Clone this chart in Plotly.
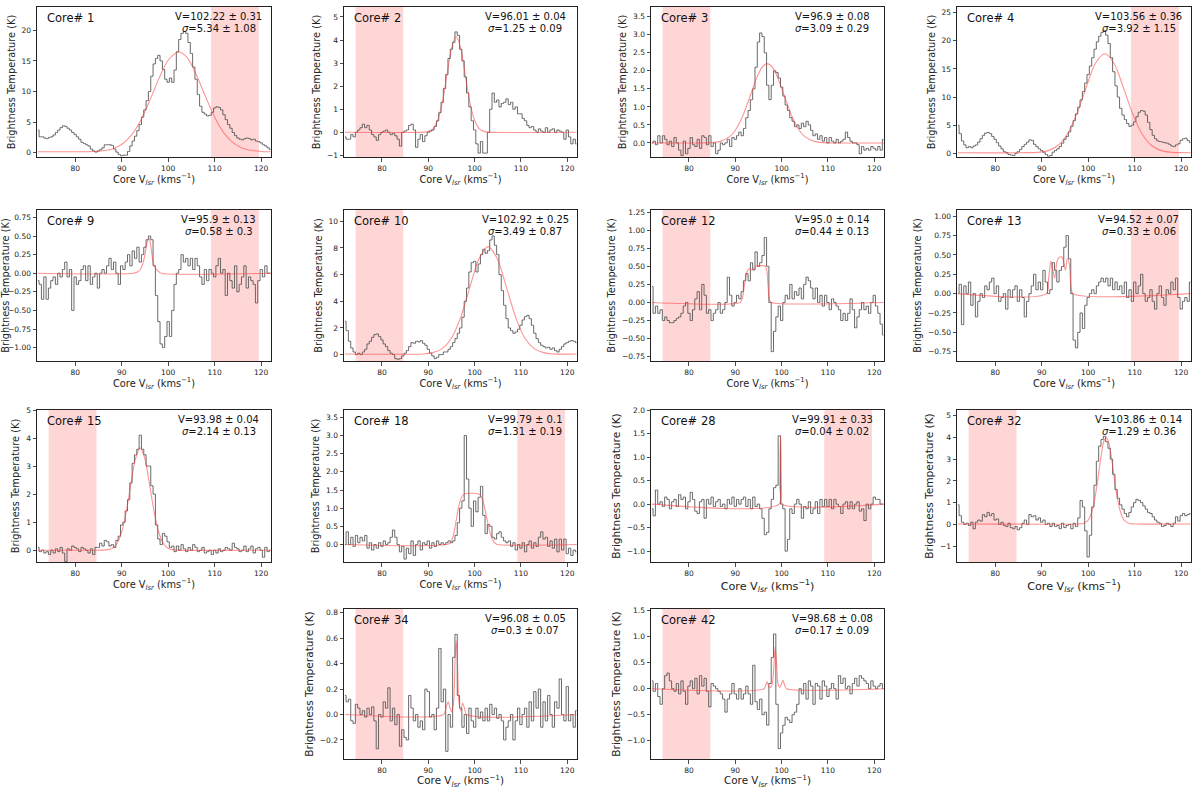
import plotly.graph_objects as go

# ---------------- data ----------------
velocity = [72.0, 72.5, 73.0, 73.5, 74.0, 74.5, 75.0, 75.5, 76.0, 76.5,
            77.0, 77.5, 78.0, 78.5, 79.0, 79.5, 80.0, 80.5, 81.0, 81.5,
            82.0, 82.5, 83.0, 83.5, 84.0, 84.5, 85.0, 85.5, 86.0, 86.5,
            87.0, 87.5, 88.0, 88.5, 89.0, 89.5, 90.0, 90.5, 91.0, 91.5,
            92.0, 92.5, 93.0, 93.5, 94.0, 94.5, 95.0, 95.5, 96.0, 96.5,
            97.0, 97.5, 98.0, 98.5, 99.0, 99.5, 100.0, 100.5, 101.0, 101.5,
            102.0, 102.5, 103.0, 103.5, 104.0, 104.5, 105.0, 105.5, 106.0, 106.5,
            107.0, 107.5, 108.0, 108.5, 109.0, 109.5, 110.0, 110.5, 111.0, 111.5,
            112.0, 112.5, 113.0, 113.5, 114.0, 114.5, 115.0, 115.5, 116.0, 116.5,
            117.0, 117.5, 118.0, 118.5, 119.0, 119.5, 120.0, 120.5, 121.0, 121.5,
            122.0]

core_ids = [1, 2, 3, 4, 9, 10, 12, 13, 15, 18, 28, 32, 34, 42]

temp_core1 = [3.7, 2.6, 2.6, 2.4, 2.3, 2.5, 2.6, 2.9, 3.3, 3.7,
              4.1, 4.4, 4.3, 4.0, 3.7, 3.3, 3.0, 2.6, 2.2, 1.7,
              1.5, 1.3, 1.1, 0.6, 0.3, 0.1, 0.3, 0.5, 0.8, 1.3,
              1.3, 1.3, 1.2, 0.6, 0.1, -0.3, -0.5, -0.4, -0.4, 0.2,
              1.1, 1.9, 2.7, 3.6, 4.6, 5.8, 7.0, 8.5, 10.0, 12.5,
              14.5, 15.4, 15.9, 15.0, 13.6, 12.0, 11.5, 12.2, 11.5, 13.5,
              16.5, 18.5, 19.5, 19.8, 19.5, 18.0, 16.2, 14.0, 12.0, 9.5,
              7.6, 6.6, 6.3, 6.0, 6.1, 6.6, 7.3, 7.5, 7.4, 7.0,
              6.2, 5.4, 4.6, 4.0, 3.3, 2.8, 2.4, 2.2, 2.1, 2.3,
              2.4, 2.3, 2.1, 2.2, 1.9, 1.8, 1.6, 1.3, 1.1, 0.8,
              0.5]
temp_core2 = [-0.2, -0.3, -0.3, -0.1, -0.2, 0.0, 0.1, 0.2, 0.35, 0.2,
              0.3, 0.1, -0.1, -0.2, -0.35, -0.1, 0.0, 0.05, 0.1, 0.0,
              -0.1, -0.05, -0.15, -0.3, -0.6, 0.0, 0.05, 0.1, 0.3, 0.35,
              0.1, -0.65, -0.3, -0.1, -0.4, -0.15, 0.0, 0.05, 0.1, 0.25,
              0.5, 0.85, 1.3, 1.9, 2.5, 3.2, 3.6, 3.9, 4.35, 4.2,
              3.6, 3.1, 2.4, 1.7, 1.1, 0.5, 0.1, -0.5, -0.9, -0.4,
              -0.9, -0.9, 0.0, 1.0, 1.7, 1.3, 1.4, 1.1, 1.25, 1.3,
              1.45, 1.2, 1.3, 1.0, 1.1, 0.8, 0.8, 0.6, 0.5, 0.3,
              0.2, 0.25, 0.1, 0.0, 0.15, 0.05, 0.0, 0.2, 0.0, 0.1,
              0.15, 0.0, 0.1, 0.05, 0.0, -0.3, 0.1, -0.2, -0.5, -0.3,
              -0.5]
temp_core3 = [0.0, 0.05, -0.05, 0.2, 0.0, 0.2, 0.1, -0.05, 0.05, -0.1,
              0.15, 0.0, -0.2, -0.35, 0.05, -0.3, -0.15, 0.15, -0.05, -0.1,
              0.1, -0.15, 0.2, 0.15, -0.05, 0.2, -0.1, 0.0, -0.3, -0.2,
              0.0, -0.05, 0.0, 0.1, -0.1, 0.15, 0.1, 0.2, 0.3, 0.2,
              0.4, 0.7, 0.9, 1.2, 1.5, 2.1, 2.8, 3.05, 2.95, 2.5,
              1.6, 1.2, 1.6, 2.0, 1.95, 1.8, 1.55, 1.3, 1.05, 0.9,
              0.7, 0.6, 0.45, 0.5, 0.4, 0.55, 0.45, 0.6, 0.5, 0.35,
              0.2, 0.25, 0.1, 0.2, 0.05, 0.15, 0.0, 0.15, 0.05, 0.0,
              0.1, 0.0, 0.05, 0.1, 0.3, 0.15, 0.05, 0.0, 0.0, -0.05,
              -0.3, -0.1, -0.2, -0.15, -0.2, -0.1, -0.15, -0.2, -0.1, -0.2,
              0.1]
temp_core4 = [5.0, 3.5, 2.2, 1.5, 1.0, 1.2, 1.0, 1.3, 1.5, 2.0,
              2.6, 3.2, 3.6, 3.7, 3.5, 3.0, 2.5, 1.9, 1.3, 0.8,
              0.3, 0.1, -0.2, -0.3, -0.4, 0.0, 0.3, 0.7, 1.2, 1.6,
              2.0, 2.4, 2.3, 1.6, 1.2, 0.8, 0.5, 0.2, -0.2, -0.5,
              -0.4, 0.2, 0.5, 0.8, 1.2, 1.8, 2.5, 3.0, 3.8, 4.8,
              5.8, 7.0, 8.2, 9.5, 11.0, 12.5, 14.0, 15.5, 17.0, 18.5,
              19.8, 20.8, 21.5, 21.8, 21.0, 19.5, 17.0, 14.5, 12.0, 10.0,
              8.0, 6.8, 6.0, 5.3, 4.8, 5.0, 5.6, 6.5, 7.3, 7.6,
              7.5, 6.8, 5.5, 4.2, 3.2, 2.6, 2.2, 2.1, 2.0, 1.9,
              1.8, 1.6, 1.3, 1.2, 1.5, 1.7, 2.3, 2.6, 2.7, 2.3,
              1.9]
temp_core9 = [-0.1, -0.15, -0.35, -0.05, -0.35, -0.2, -0.1, -0.05, -0.15, 0.0,
              -0.05, 0.05, 0.15, -0.05, 0.05, -0.5, -0.05, -0.15, -0.1, 0.05,
              0.1, -0.1, 0.1, -0.15, -0.05, 0.0, -0.2, 0.0, 0.05, 0.0,
              0.1, 0.2, 0.05, 0.15, 0.0, -0.15, 0.1, 0.05, 0.15, 0.25,
              0.1, 0.3, 0.2, 0.35, 0.15, 0.25, 0.35, 0.45, 0.5, 0.45,
              0.1, -0.3, -0.65, -0.95, -1.0, -0.85, -0.65, -0.85, -0.5, -0.15,
              0.0, 0.05, 0.25, 0.15, 0.2, 0.1, 0.2, 0.05, 0.2, 0.1,
              -0.05, -0.15, 0.05, -0.1, 0.05, 0.0, -0.05, 0.1, 0.2, 0.0,
              0.05, -0.3, 0.0, -0.1, -0.2, 0.1, -0.25, -0.15, -0.05, 0.1,
              -0.2, -0.05, -0.1, -0.15, -0.4, -0.1, 0.05, -0.05, 0.1, 0.0,
              0.0]
temp_core10 = [2.5, 1.8, 1.0, 0.5, 0.2, 0.0, 0.1, 0.0, 0.2, 0.4,
               0.8, 1.0, 1.3, 1.5, 1.55, 1.35, 1.1, 0.8, 0.6, 0.3,
               0.1, 0.0, -0.3, -0.35, -0.3, -0.1, 0.1, 0.3, 0.6, 0.9,
               0.85, 1.0, 0.95, 1.05, 0.85, 0.7, 0.4, 0.1, -0.1, -0.3,
               -0.2, 0.0, 0.0, 0.2, 0.2, 0.4, 0.6, 0.9, 1.2, 1.6,
               2.0, 2.8, 4.0, 5.0, 6.2, 6.9, 7.0, 6.2, 6.8, 7.5,
               7.9, 7.6, 7.8, 8.6, 8.9, 8.2, 7.5, 6.0, 4.8, 3.7,
               2.7, 2.0, 1.8, 1.6, 1.7, 1.9, 2.2, 2.6, 2.85, 2.95,
               2.7, 2.2, 1.6, 1.2, 0.9, 0.7, 0.6, 0.5, 0.55, 0.4,
               0.5, 0.3, 0.2, 0.4, 0.6, 0.8, 0.9, 1.0, 1.05, 1.0,
               0.9]
temp_core12 = [0.22, -0.15, -0.05, -0.15, -0.1, -0.25, -0.2, -0.25, -0.28, -0.28,
               -0.25, -0.22, -0.2, -0.15, -0.05, 0.0, -0.15, -0.25, -0.1, 0.05,
               0.15, -0.1, 0.25, 0.1, -0.15, -0.1, -0.25, -0.15, -0.1, 0.0,
               -0.15, -0.1, 0.0, 0.35, 0.1, -0.05, 0.0, 0.1, 0.05, 0.15,
               0.3, 0.4, 0.3, 0.55, 0.45, 0.7, 0.5, 0.55, 0.65, 0.9,
               0.5, 0.0, -0.68, -0.4, -0.2, -0.05, -0.25, 0.0, 0.1, 0.05,
               0.25, 0.05, 0.15, 0.1, 0.2, 0.05, 0.25, 0.35, 0.3, 0.2,
               0.05, 0.2, 0.0, 0.1, -0.05, 0.1, 0.0, -0.1, 0.05, 0.0,
               -0.05, -0.1, -0.25, -0.15, -0.25, -0.15, 0.05, -0.1, -0.35, -0.2,
               -0.1, 0.0, -0.1, -0.05, -0.15, 0.0, 0.1, -0.05, -0.15, -0.3,
               -0.45]
temp_core13 = [0.0, 0.12, -0.4, 0.1, 0.0, 0.15, -0.15, 0.0, -0.3, -0.1,
               0.0, -0.05, 0.1, 0.05, 0.15, 0.2, 0.0, 0.1, -0.1, -0.05,
               0.0, -0.2, 0.05, -0.05, 0.05, 0.1, -0.1, 0.05, -0.05, -0.3,
               -0.1, 0.0, 0.1, 0.25, 0.05, 0.15, 0.05, 0.3, 0.15, 0.0,
               0.05, 0.4, 0.3, 0.15, 0.3, 0.35, 0.6, 0.75, 0.45, 0.0,
               -0.6, -0.7, -0.5, -0.25, -0.45, -0.15, -0.05, 0.0, 0.05, 0.0,
               0.1, 0.15, 0.2, 0.15, 0.2, 0.1, 0.2, 0.05, 0.15, 0.05,
               0.1, 0.0, 0.15, -0.05, 0.05, -0.1, 0.15, 0.0, 0.1, 0.25,
               0.0, -0.1, -0.05, 0.05, -0.1, -0.2, 0.0, 0.1, -0.05, -0.15,
               0.05, 0.0, 0.15, 0.05, 0.2, -0.05, -0.2, -0.1, -0.05, -0.1,
               0.15]
temp_core15 = [0.1, -0.05, 0.0, -0.1, -0.05, -0.15, 0.0, -0.1, 0.05, -0.05,
               0.1, -0.1, -0.4, 0.05, 0.0, 0.15, 0.1, 0.05, -0.05, 0.1,
               0.05, 0.0, -0.1, 0.05, -0.15, 0.1, 0.1, 0.25, 0.15, 0.35,
               0.3, 0.15, 0.2, 0.1, 0.35, 0.5, 0.9, 1.0, 1.4, 1.8,
               2.4, 3.1, 3.4, 3.6, 4.1, 3.6, 3.4, 3.0, 3.0, 2.3,
               2.0, 0.9, 0.4, 0.2, 0.6, 0.5, 0.3, 0.1, 0.15, -0.05,
               0.15, 0.0, 0.2, 0.05, -0.05, 0.1, 0.0, 0.2, 0.1, -0.05,
               0.0, 0.1, -0.1, -0.05, 0.0, -0.15, 0.0, -0.1, 0.05, -0.05,
               0.0, 0.1, 0.05, 0.0, 0.25, 0.1, 0.05, -0.05, 0.0, 0.15,
               -0.05, 0.05, 0.15, -0.1, 0.05, 0.1, 0.0, -0.25, 0.1, -0.05,
               0.0]
temp_core18 = [0.0, 0.35, 0.0, 0.2, -0.05, 0.25, 0.05, 0.2, 0.1, 0.25,
               -0.1, 0.05, -0.15, 0.0, -0.1, 0.05, -0.05, 0.1, 0.0, 0.05,
               0.2, 0.4, 0.2, 0.0, -0.2, -0.05, -0.4, -0.1, -0.25, 0.1,
               -0.3, 0.0, 0.1, -0.15, 0.05, 0.0, 0.1, -0.1, 0.05, -0.05,
               0.1, 0.0, 0.05, 0.0, 0.05, 0.1, 0.05, 0.1, 0.25, 0.6,
               1.0, 1.2, 3.0, 1.8, 1.0, 0.5, 1.2, 0.9, 1.3, 1.6,
               0.8, 0.3, 0.55, 0.5, 0.2, 0.15, 0.3, 0.35, 0.2, 0.1,
               0.05, 0.1, -0.05, 0.05, -0.15, 0.0, -0.1, 0.05, -0.2, 0.0,
               0.1, -0.1, 0.05, -0.05, 0.2, 0.35, 0.15, 0.2, -0.05, 0.1,
               -0.1, 0.15, -0.2, 0.15, -0.15, 0.15, -0.25, -0.1, -0.3, -0.15,
               -0.2]
temp_core28 = [-0.1, -0.25, 0.3, 0.0, 0.05, -0.05, 0.15, 0.1, -0.1, 0.05,
               0.1, -0.05, 0.2, 0.1, 0.15, -0.1, 0.05, 0.25, 0.1, -0.15,
               -0.2, 0.05, 0.1, -0.3, 0.1, 0.0, 0.15, -0.05, 0.05, 0.1,
               -0.05, 0.0, -0.1, 0.1, 0.0, 0.15, -0.05, 0.1, 0.0, 0.1,
               0.15, -0.05, 0.1, -0.1, 0.15, -0.05, 0.0, -0.1, -0.3, -0.65,
               -0.6, -0.1, 0.1, 0.35, 0.4, 1.45, 0.0, -0.1, -1.0, -0.75,
               -0.1, -0.2, 0.0, 0.1, 0.0, -0.3, -0.05, -0.1, 0.05, -0.2,
               -0.1, 0.05, -0.2, 0.1, -0.05, 0.1, -0.05, 0.1, -0.1, 0.1,
               0.0, -0.05, -0.2, 0.0, 0.05, -0.1, 0.05, -0.1, 0.0, 0.05,
               -0.15, -0.1, -0.35, 0.0, -0.1, 0.0, 0.15, 0.1, 0.1, 0.0,
               0.0]
temp_core32 = [0.9, 0.4, 0.1, 0.0, 0.05, -0.05, 0.1, -0.2, 0.1, 0.2,
               0.15, 0.45, 0.35, 0.55, 0.4, 0.5, 0.2, 0.25, 0.0, 0.1,
               -0.05, -0.1, 0.05, -0.15, -0.2, -0.1, -0.25, -0.15, 0.05, 0.2,
               0.0, 0.45, 0.35, 0.4, 0.2, 0.3, 0.1, 0.2, 0.0, 0.05,
               -0.1, 0.05, -0.1, -0.05, -0.2, 0.05, -0.15, -0.05, 0.0, -0.2,
               0.05, -0.1, 0.3, 1.1, 0.8, -0.3, -1.5, -0.5, 0.8, 1.8,
               2.9, 3.6, 3.9, 4.05, 3.8, 3.5, 3.0, 2.3, 1.6, 1.2,
               0.9, 0.7, 0.5, 0.35, 0.55, 0.8, 1.0, 1.15, 1.1, 1.0,
               0.85, 0.7, 0.55, 0.5, 0.35, 0.2, 0.1, 0.05, -0.1, -0.05,
               0.05, 0.0, -0.1, 0.05, 0.35, 0.15, 0.4, 0.5, 0.4, 0.45,
               0.5]
temp_core34 = [0.15, 0.1, 0.12, -0.05, -0.07, 0.08, 0.05, 0.0, 0.03, -0.02,
               0.05, 0.0, 0.06, -0.05, -0.27, 0.0, -0.02, 0.1, 0.05, 0.21,
               -0.05, 0.05, -0.08, 0.0, -0.25, -0.12, -0.18, -0.2, 0.15, 0.05,
               -0.05, 0.0, -0.1, -0.05, -0.12, 0.2, 0.18, -0.02, 0.0, -0.12,
               0.05, 0.52, 0.1, 0.2, -0.29, 0.0, -0.1, 0.45, 0.63, 0.15,
               0.05, -0.1, 0.0, -0.15, 0.05, -0.05, -0.1, 0.05, -0.03, 0.02,
               -0.05, 0.05, -0.05, 0.08, 0.0, 0.05, -0.03, 0.0, -0.05, -0.2,
               -0.1, -0.05, 0.0, -0.2, -0.05, 0.05, -0.08, 0.0, 0.05, -0.1,
               0.1, -0.05, 0.18, 0.05, 0.2, -0.1, 0.1, -0.05, 0.15, 0.0,
               -0.1, 0.1, 0.05, 0.28, 0.0, -0.05, 0.22, -0.05, 0.0, -0.1,
               0.03]
temp_core42 = [0.15, -0.05, 0.1, -0.15, -0.3, 0.0, 0.25, 0.3, 0.15, 0.0,
               -0.05, 0.1, -0.1, 0.15, -0.05, -0.3, 0.05, 0.15, 0.0, 0.2,
               -0.1, 0.25, 0.05, 0.2, -0.05, -0.35, 0.1, 0.05, 0.0, -0.05,
               -0.1, -0.2, -0.45, -0.2, -0.1, 0.1, -0.1, -0.2, 0.0, -0.2,
               -0.1, 0.05, -0.1, -0.3, 0.45, -0.25, -0.4, -0.2, -0.5, -0.45,
               -0.7, 0.1, 0.6, 1.05, -0.3, -1.15, -0.85, -0.7, -0.55, -0.6,
               -0.65, -0.5, -0.45, -0.3, 0.0, -0.1, 0.1, -0.2, 0.15, 0.05,
               -0.3, 0.1, 0.05, -0.2, 0.15, 0.05, -0.15, 0.0, 0.1, 0.0,
               -0.2, 0.25, 0.1, 0.2, 0.0, 0.05, -0.1, 0.1, 0.2, 0.05,
               0.25, 0.2, 0.15, 0.1, 0.0, 0.15, 0.05, 0.0, 0.05, 0.1,
               0.0]

# fitted model curves
fit_v_core1 = [72, 80, 84, 86, 88, 90, 92, 94, 96, 98, 100, 102.2, 104, 106, 108, 110, 112, 114, 116, 118, 120, 122]
fit_t_core1 = [0.15, 0.15, 0.2, 0.31, 0.62, 1.35, 2.78, 5.15, 8.46, 12.1, 15.1, 16.45, 15.6, 12.8, 9.2, 5.8, 3.2, 1.6, 0.74, 0.36, 0.21, 0.16]
fit_v_core2 = [72, 89, 90, 91, 92, 93, 94, 95, 96, 97, 98, 99, 100, 101, 102, 103, 122]
fit_t_core2 = [0, 0.01, 0.04, 0.15, 0.51, 1.27, 2.45, 3.64, 4.15, 3.64, 2.45, 1.27, 0.51, 0.15, 0.04, 0.01, 0]
fit_v_core3 = [72, 84.9, 86.9, 88.9, 89.9, 90.9, 91.9, 92.9, 93.9, 94.9, 95.9, 96.9, 97.9, 98.9, 99.9, 100.9, 101.9, 102.9, 103.9, 104.9, 106.9, 108.9, 122]
fit_t_core3 = [0, 0.01, 0.05, 0.19, 0.33, 0.55, 0.84, 1.19, 1.55, 1.89, 2.12, 2.2, 2.12, 1.89, 1.55, 1.19, 0.84, 0.55, 0.33, 0.19, 0.05, 0.01, 0]
fit_v_core4 = [72, 87.56, 89.56, 91.56, 93.56, 95.56, 97.56, 99.56, 101.56, 103.56, 105.56, 107.56, 109.56, 111.56, 113.56, 115.56, 117.56, 119.56, 122]
fit_t_core4 = [0.1, 0.12, 0.21, 0.53, 1.43, 3.47, 7.05, 11.7, 16.0, 17.7, 16.0, 11.7, 7.05, 3.47, 1.43, 0.53, 0.21, 0.12, 0.1]
fit_v_core9 = [72, 92.5, 93.5, 94, 94.5, 95, 95.5, 95.9, 96.3, 96.7, 97, 97.5, 98, 98.5, 122]
fit_t_core9 = [0, 0.0, 0.02, 0.05, 0.12, 0.25, 0.42, 0.47, 0.35, 0.17, 0.1, 0.05, 0.02, 0.0, 0]
fit_v_core10 = [72, 88.92, 90.92, 92.92, 94.92, 96.92, 98.92, 100.92, 102.92, 104.92, 106.92, 108.92, 110.92, 112.92, 114.92, 116.92, 122]
fit_t_core10 = [0.05, 0.05, 0.15, 0.43, 1.19, 2.74, 4.99, 7.17, 8.1, 7.17, 4.99, 2.74, 1.19, 0.43, 0.15, 0.05, 0.05]
fit_v_core12 = [72, 91, 91.5, 92, 92.5, 93, 93.5, 94, 94.5, 95, 95.5, 96, 96.5, 96.8, 97.1, 97.4, 97.8, 122]
fit_t_core12 = [0, 0.0, 0.05, 0.25, 0.42, 0.47, 0.45, 0.47, 0.5, 0.51, 0.51, 0.51, 0.5, 0.45, 0.2, 0.03, 0.0, 0]
fit_v_core13 = [72, 91.0, 91.5, 92.0, 92.4, 92.8, 93.3, 93.8, 94.4, 94.8, 95.1, 95.5, 95.9, 96.3, 96.7, 122]
fit_t_core13 = [0, 0.0, 0.2, 0.42, 0.3, 0.2, 0.42, 0.47, 0.47, 0.38, 0.3, 0.45, 0.4, 0.1, 0.0, 0]
fit_v_core15 = [72, 85.98, 86.98, 87.98, 88.98, 89.98, 90.98, 91.98, 92.98, 93.98, 94.98, 95.98, 96.98, 97.98, 98.98, 99.98, 100.98, 101.98, 122]
fit_t_core15 = [0, 0.004, 0.02, 0.07, 0.24, 0.64, 1.37, 2.36, 3.27, 3.65, 3.27, 2.36, 1.37, 0.64, 0.24, 0.07, 0.02, 0.004, 0]
fit_v_core18 = [72, 94.5, 95, 95.5, 96, 96.5, 97, 97.5, 98, 98.5, 99, 99.5, 100, 100.5, 101, 101.5, 102, 102.5, 103, 103.5, 104, 104.5, 105, 122]
fit_t_core18 = [0, 0.02, 0.1, 0.3, 0.65, 1.0, 1.25, 1.36, 1.4, 1.41, 1.41, 1.41, 1.41, 1.4, 1.38, 1.3, 1.1, 0.8, 0.5, 0.25, 0.1, 0.03, 0.0, 0]
fit_v_core28 = [72, 99.45, 99.6, 99.75, 99.85, 100.0, 100.15, 122]
fit_t_core28 = [0, 0.0, 0.4, 1.47, 1.2, 0.2, 0.0, 0]
fit_v_core32 = [72, 97.86, 98.86, 99.86, 100.36, 100.86, 101.36, 101.86, 102.36, 102.86, 103.36, 103.86, 104.36, 104.86, 105.36, 105.86, 106.36, 106.86, 107.36, 107.86, 108.86, 109.86, 122]
fit_t_core32 = [0.02, 0.02, 0.04, 0.16, 0.33, 0.63, 1.11, 1.76, 2.52, 3.27, 3.82, 4.02, 3.82, 3.27, 2.52, 1.76, 1.11, 0.63, 0.33, 0.16, 0.04, 0.02, 0.02]
fit_v_core34 = [72, 93.3, 93.8, 94.3, 94.7, 95.1, 95.5, 95.8, 96.0, 96.25, 96.6, 97.0, 97.4, 97.8, 98.3, 122]
fit_t_core34 = [0, 0.0, 0.05, 0.1, 0.05, 0.02, 0.12, 0.45, 0.58, 0.45, 0.1, 0.03, 0.09, 0.05, 0.0, 0]
fit_v_core42 = [72, 96.2, 96.6, 96.9, 97.2, 97.6, 98.0, 98.3, 98.6, 98.9, 99.2, 99.6, 100.0, 100.3, 100.7, 101.1, 122]
fit_t_core42 = [0, 0.0, 0.08, 0.13, 0.05, 0.02, 0.1, 0.4, 0.8, 0.5, 0.1, 0.03, 0.1, 0.16, 0.05, 0.0, 0]

fit_velocity = ["102.22", "96.01", "96.9", "103.56", "95.9", "102.92", "95.0", "94.52",
                "93.98", "99.79", "99.91", "103.86", "96.08", "98.68"]
fit_velocity_err = ["0.31", "0.04", "0.08", "0.36", "0.13", "0.25", "0.14", "0.07",
                    "0.04", "0.1", "0.33", "0.14", "0.05", "0.08"]
fit_sigma = ["5.34", "1.25", "3.09", "3.92", "0.58", "3.49", "0.44", "0.33",
             "2.14", "1.31", "0.04", "1.29", "0.3", "0.17"]
fit_sigma_err = ["1.08", "0.09", "0.29", "1.15", "0.3", "0.87", "0.13", "0.06",
                 "0.13", "0.19", "0.02", "0.36", "0.07", "0.09"]

# baseline windows (km/s)
window_low = [74.3, 84.6]
window_high = [109.2, 119.5]
window_side = ["high", "low", "low", "high", "high", "low", "low", "high",
               "low", "high", "high", "low", "low", "low"]

y_ranges = [[-0.7, 23.8], [-1.07, 5.43], [-0.39, 3.77], [-0.65, 26.0],
            [-1.18, 0.85], [-0.48, 10.85], [-0.81, 1.28], [-0.87, 1.08],
            [-0.42, 5.0], [-0.48, 3.7], [-1.23, 2.0], [-1.73, 5.26],
            [-0.35, 0.83], [-1.35, 1.53]]
y_ticks = [[0, 5, 10, 15, 20], [-1, 0, 1, 2, 3, 4, 5],
           [0, 0.5, 1.0, 1.5, 2.0, 2.5, 3.0, 3.5], [0, 5, 10, 15, 20, 25],
           [-1.0, -0.75, -0.5, -0.25, 0, 0.25, 0.5, 0.75], [0, 2, 4, 6, 8, 10],
           [-0.75, -0.5, -0.25, 0, 0.25, 0.5, 0.75, 1.0, 1.25],
           [-0.75, -0.5, -0.25, 0, 0.25, 0.5, 0.75, 1.0],
           [0, 1, 2, 3, 4, 5], [0, 0.5, 1.0, 1.5, 2.0, 2.5, 3.0, 3.5],
           [-1.0, -0.5, 0, 0.5, 1.0, 1.5, 2.0], [-1, 0, 1, 2, 3, 4, 5],
           [-0.2, 0, 0.2, 0.4, 0.6, 0.8], [-1.0, -0.5, 0, 0.5, 1.0, 1.5]]
y_tick_decimals = [0, 0, 1, 0, 2, 0, 2, 2, 0, 1, 1, 0, 1, 1]
x_ticks = [80, 90, 100, 110, 120]
x_range = [71.8, 122.1]

temps = [temp_core1, temp_core2, temp_core3, temp_core4, temp_core9, temp_core10,
         temp_core12, temp_core13, temp_core15, temp_core18, temp_core28,
         temp_core32, temp_core34, temp_core42]
fits_v = [fit_v_core1, fit_v_core2, fit_v_core3, fit_v_core4, fit_v_core9, fit_v_core10,
          fit_v_core12, fit_v_core13, fit_v_core15, fit_v_core18, fit_v_core28,
          fit_v_core32, fit_v_core34, fit_v_core42]
fits_t = [fit_t_core1, fit_t_core2, fit_t_core3, fit_t_core4, fit_t_core9, fit_t_core10,
          fit_t_core12, fit_t_core13, fit_t_core15, fit_t_core18, fit_t_core28,
          fit_t_core32, fit_t_core34, fit_t_core42]

# ---------------- layout ----------------
W, H = 1200, 791
col_px = [(37, 271), (344, 577), (651, 884), (957, 1191)]
row_px = [(7, 157), (210, 361), (410, 562), (609, 759)]
cells = [(0, 0), (0, 1), (0, 2), (0, 3), (1, 0), (1, 1), (1, 2), (1, 3),
         (2, 0), (2, 1), (2, 2), (2, 3), (3, 1), (3, 2)]
big_labels = {10, 11, 12, 13}

FONT = "DejaVu Sans"
INK = "#222222"
XLABEL = "Core V<sub><i>lsr</i></sub> (kms<sup>\u22121</sup>)"

fig = go.Figure()
layout = dict(width=W, height=H, margin=dict(l=0, r=0, t=0, b=0, autoexpand=False),
              autosize=False, paper_bgcolor="white", plot_bgcolor="white",
              showlegend=False, font=dict(family=FONT, color=INK))
annotations = []
shapes = []


def fmt(v, d):
    s = f"{v:.{d}f}"
    return s.replace("-", "\u2212")


for i, cid in enumerate(core_ids):
    k = i + 1
    xn = "x" if k == 1 else f"x{k}"
    yn = "y" if k == 1 else f"y{k}"
    xkey = "xaxis" if k == 1 else f"xaxis{k}"
    ykey = "yaxis" if k == 1 else f"yaxis{k}"
    r, c = cells[i]
    x0p, x1p = col_px[c]
    y0p, y1p = row_px[r]
    big = i in big_labels
    label_size = 11.2 if big else 9.8
    bottom_row = (r == 3)

    fig.add_trace(go.Scatter(x=velocity, y=temps[i], mode="lines",
                             line=dict(color="rgba(80,80,80,0.85)", width=1, shape="hvh"),
                             xaxis=xn, yaxis=yn, hoverinfo="skip"))
    fig.add_trace(go.Scatter(x=fits_v[i], y=fits_t[i], mode="lines",
                             line=dict(color="rgba(255,60,60,0.55)", width=1.1,
                                       shape="spline", smoothing=0.8),
                             xaxis=xn, yaxis=yn, hoverinfo="skip"))

    xaxis = dict(domain=[x0p / W, x1p / W], anchor=yn, range=x_range,
                 automargin=False,
                 tickvals=x_ticks, ticktext=[str(t) for t in x_ticks],
                 ticks="outside", ticklen=3.5, tickwidth=0.8, tickcolor=INK,
                 showline=True, linecolor=INK, linewidth=1, mirror=True,
                 showgrid=False, zeroline=False,
                 tickfont=dict(size=7.5, family=FONT, color=INK))
    if not bottom_row:
        xaxis["title"] = dict(text=XLABEL, font=dict(size=label_size, family=FONT, color=INK),
                              standoff=5 if big else 3)
    else:
        # bottom row: label sits against the lower edge of the figure
        annotations.append(dict(xref="paper", yref="paper", x=(x0p + x1p) / 2 / W, y=0,
                                xanchor="center", yanchor="bottom", showarrow=False,
                                text=XLABEL, font=dict(size=10.4, family=FONT, color=INK)))
    layout[xkey] = xaxis
    layout[ykey] = dict(domain=[1 - y1p / H, 1 - y0p / H], anchor=xn, range=y_ranges[i],
                        automargin=False,
                        tickvals=y_ticks[i],
                        ticktext=[fmt(t, y_tick_decimals[i]) for t in y_ticks[i]],
                        ticks="outside", ticklen=3.5, tickwidth=0.8, tickcolor=INK,
                        showline=True, linecolor=INK, linewidth=1, mirror=True,
                        showgrid=False, zeroline=False,
                        tickfont=dict(size=7.5, family=FONT, color=INK),
                        title=dict(text="Brightness Temperature (K)",
                                   font=dict(size=label_size - 0.6 if big else label_size,
                                             family=FONT, color=INK),
                                   standoff=4))

    win = window_high if window_side[i] == "high" else window_low
    shapes.append(dict(type="rect", xref=xn, yref=f"{yn} domain", x0=win[0], x1=win[1],
                       y0=0, y1=1, fillcolor="rgba(255,0,0,0.16)", line=dict(width=0),
                       layer="below"))

    annotations.append(dict(xref=f"{xn} domain", yref=f"{yn} domain", x=0.035, y=0.93,
                            xanchor="left", yanchor="middle", showarrow=False,
                            text=f"Core# {cid}", font=dict(size=11.5, family=FONT, color="#111")))
    annotations.append(dict(xref=f"{xn} domain", yref=f"{yn} domain", x=0.777, y=0.94,
                            xanchor="center", yanchor="middle", showarrow=False,
                            text=f"V={fit_velocity[i]} \u00b1 {fit_velocity_err[i]}",
                            font=dict(size=10, family=FONT, color="#111")))
    annotations.append(dict(xref=f"{xn} domain", yref=f"{yn} domain", x=0.777, y=0.858,
                            xanchor="center", yanchor="middle", showarrow=False,
                            text=f"<i>\u03c3</i>={fit_sigma[i]} \u00b1 {fit_sigma_err[i]}",
                            font=dict(size=10, family=FONT, color="#111")))

layout["annotations"] = annotations
layout["shapes"] = shapes
fig.update_layout(**layout)

fig.write_html("out.html",
               config={"displayModeBar": False, "staticPlot": True},
               post_script="document.body.style.margin='0px';document.body.style.padding='0px';document.body.style.overflow='hidden';")
